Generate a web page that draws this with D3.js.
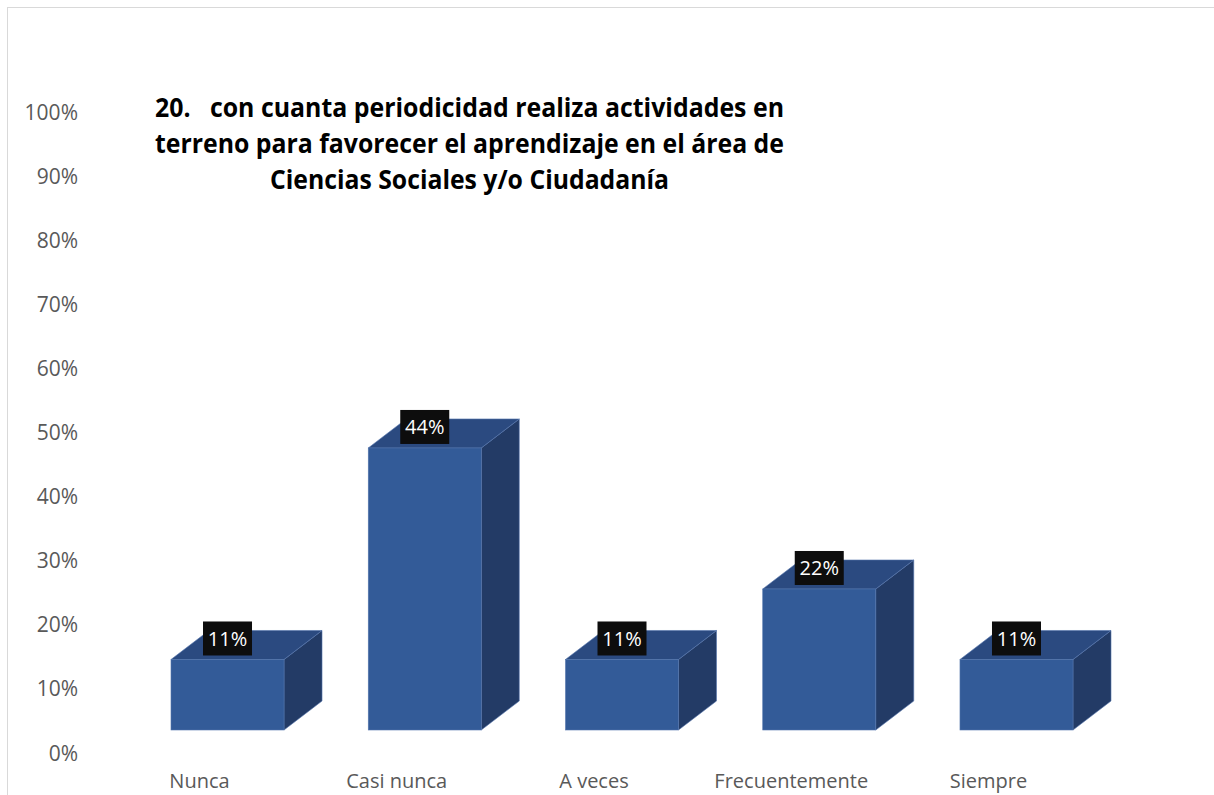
<!DOCTYPE html>
<html>
<head>
<meta charset="utf-8">
<script src="https://cdn.jsdelivr.net/npm/d3@7"></script>
<style>
  body { margin: 0; background: #fff; }
  svg { display: block; }
</style>
</head>
<body>
<svg id="chart" width="1214" height="795"></svg>
<script>
const categories = ["Nunca", "Casi nunca", "A veces", "Frecuentemente", "Siempre"];
const values = [0.11, 0.44, 0.11, 0.22, 0.11];
const valueLabels = ["11%", "44%", "11%", "22%", "11%"];
const yTicks = [0, 0.1, 0.2, 0.3, 0.4, 0.5, 0.6, 0.7, 0.8, 0.9, 1];
const titleLines = [
  "20.   con cuanta periodicidad realiza actividades en",
  "terreno para favorecer el aprendizaje en el área de",
  "Ciencias Sociales y/o Ciudadanía"
];

const svg = d3.select("#chart");
const font = "'Open Sans', 'Noto Sans', sans-serif";

// chart border (only top/left visible in the picture)
svg.append("rect")
  .attr("x", 7.5).attr("y", 7.5)
  .attr("width", 1300).attr("height", 900)
  .attr("fill", "none")
  .attr("stroke", "#d9d9d9");

// depth of the 3d boxes
const dx = 38, dy = 29;

const x = d3.scaleBand()
  .domain(categories)
  .range([171, 1073])
  .paddingInner(0.427)
  .paddingOuter(0);

// axis labels sit on their own scale, bars' front face is shifted up by the floor
const yAxis = d3.scaleLinear().domain([0, 1]).range([753, 112]);
const yFront = d3.scaleLinear().domain([0, 1]).range([730, 89]);

svg.append("g")
  .selectAll("text")
  .data(yTicks)
  .join("text")
  .attr("x", 78)
  .attr("y", d => yAxis(d))
  .attr("dy", "0.36em")
  .attr("text-anchor", "end")
  .attr("font-family", font)
  .attr("font-size", 21)
  .attr("fill", "#595959")
  .text(d3.format(".0%"));

const bars = svg.append("g")
  .selectAll("g")
  .data(categories)
  .join("g");

const faceStroke = "#5576ad";

// side face
bars.append("path")
  .attr("d", (c, i) => {
    const x1 = x(c) + x.bandwidth();
    const yt = yFront(values[i]), yb = yFront(0);
    return `M${x1},${yt} L${x1 + dx},${yt - dy} L${x1 + dx},${yb - dy} L${x1},${yb} Z`;
  })
  .attr("fill", "#233b66")
  .attr("stroke", faceStroke)
  .attr("stroke-width", 0.6);

// top face
bars.append("path")
  .attr("d", (c, i) => {
    const x0 = x(c), x1 = x0 + x.bandwidth();
    const yt = yFront(values[i]);
    return `M${x0},${yt} L${x0 + dx},${yt - dy} L${x1 + dx},${yt - dy} L${x1},${yt} Z`;
  })
  .attr("fill", "#2b4a80")
  .attr("stroke", faceStroke)
  .attr("stroke-width", 0.6);

// front face
bars.append("rect")
  .attr("x", c => x(c))
  .attr("y", (c, i) => yFront(values[i]))
  .attr("width", x.bandwidth())
  .attr("height", (c, i) => yFront(0) - yFront(values[i]))
  .attr("fill", "#335b98")
  .attr("stroke", faceStroke)
  .attr("stroke-width", 0.6);

// data labels
const boxW = 49, boxH = 34;
bars.append("rect")
  .attr("x", c => x(c) + x.bandwidth() / 2 - boxW / 2)
  .attr("y", (c, i) => yFront(values[i]) - 4 - boxH)
  .attr("width", boxW)
  .attr("height", boxH)
  .attr("fill", "#0d0d0d");

bars.append("text")
  .attr("x", c => x(c) + x.bandwidth() / 2)
  .attr("y", (c, i) => yFront(values[i]) - 4 - boxH / 2)
  .attr("dy", "0.36em")
  .attr("text-anchor", "middle")
  .attr("font-family", font)
  .attr("font-size", 20)
  .attr("fill", "#fff")
  .text((c, i) => valueLabels[i]);

// category labels (drawn on the 3d floor, so a bit left of the bar)
svg.append("g")
  .selectAll("text")
  .data(categories)
  .join("text")
  .attr("x", c => x(c) + x.bandwidth() / 2 - 28)
  .attr("y", 788)
  .attr("text-anchor", "middle")
  .attr("font-family", font)
  .attr("font-size", 20)
  .attr("fill", "#595959")
  .text(c => c);

// title
const titleWidths = [629, 629, 399];
svg.append("g")
  .selectAll("text")
  .data(titleLines)
  .join("text")
  .attr("x", 469.5)
  .attr("y", (d, i) => 117 + i * 36)
  .attr("text-anchor", "middle")
  .attr("font-family", font)
  .attr("font-weight", "bold")
  .attr("font-size", 27)
  .attr("fill", "#000")
  .style("white-space", "pre")
  .attr("textLength", (d, i) => titleWidths[i])
  .attr("lengthAdjust", "spacingAndGlyphs")
  .text(d => d);
</script>
</body>
</html>
